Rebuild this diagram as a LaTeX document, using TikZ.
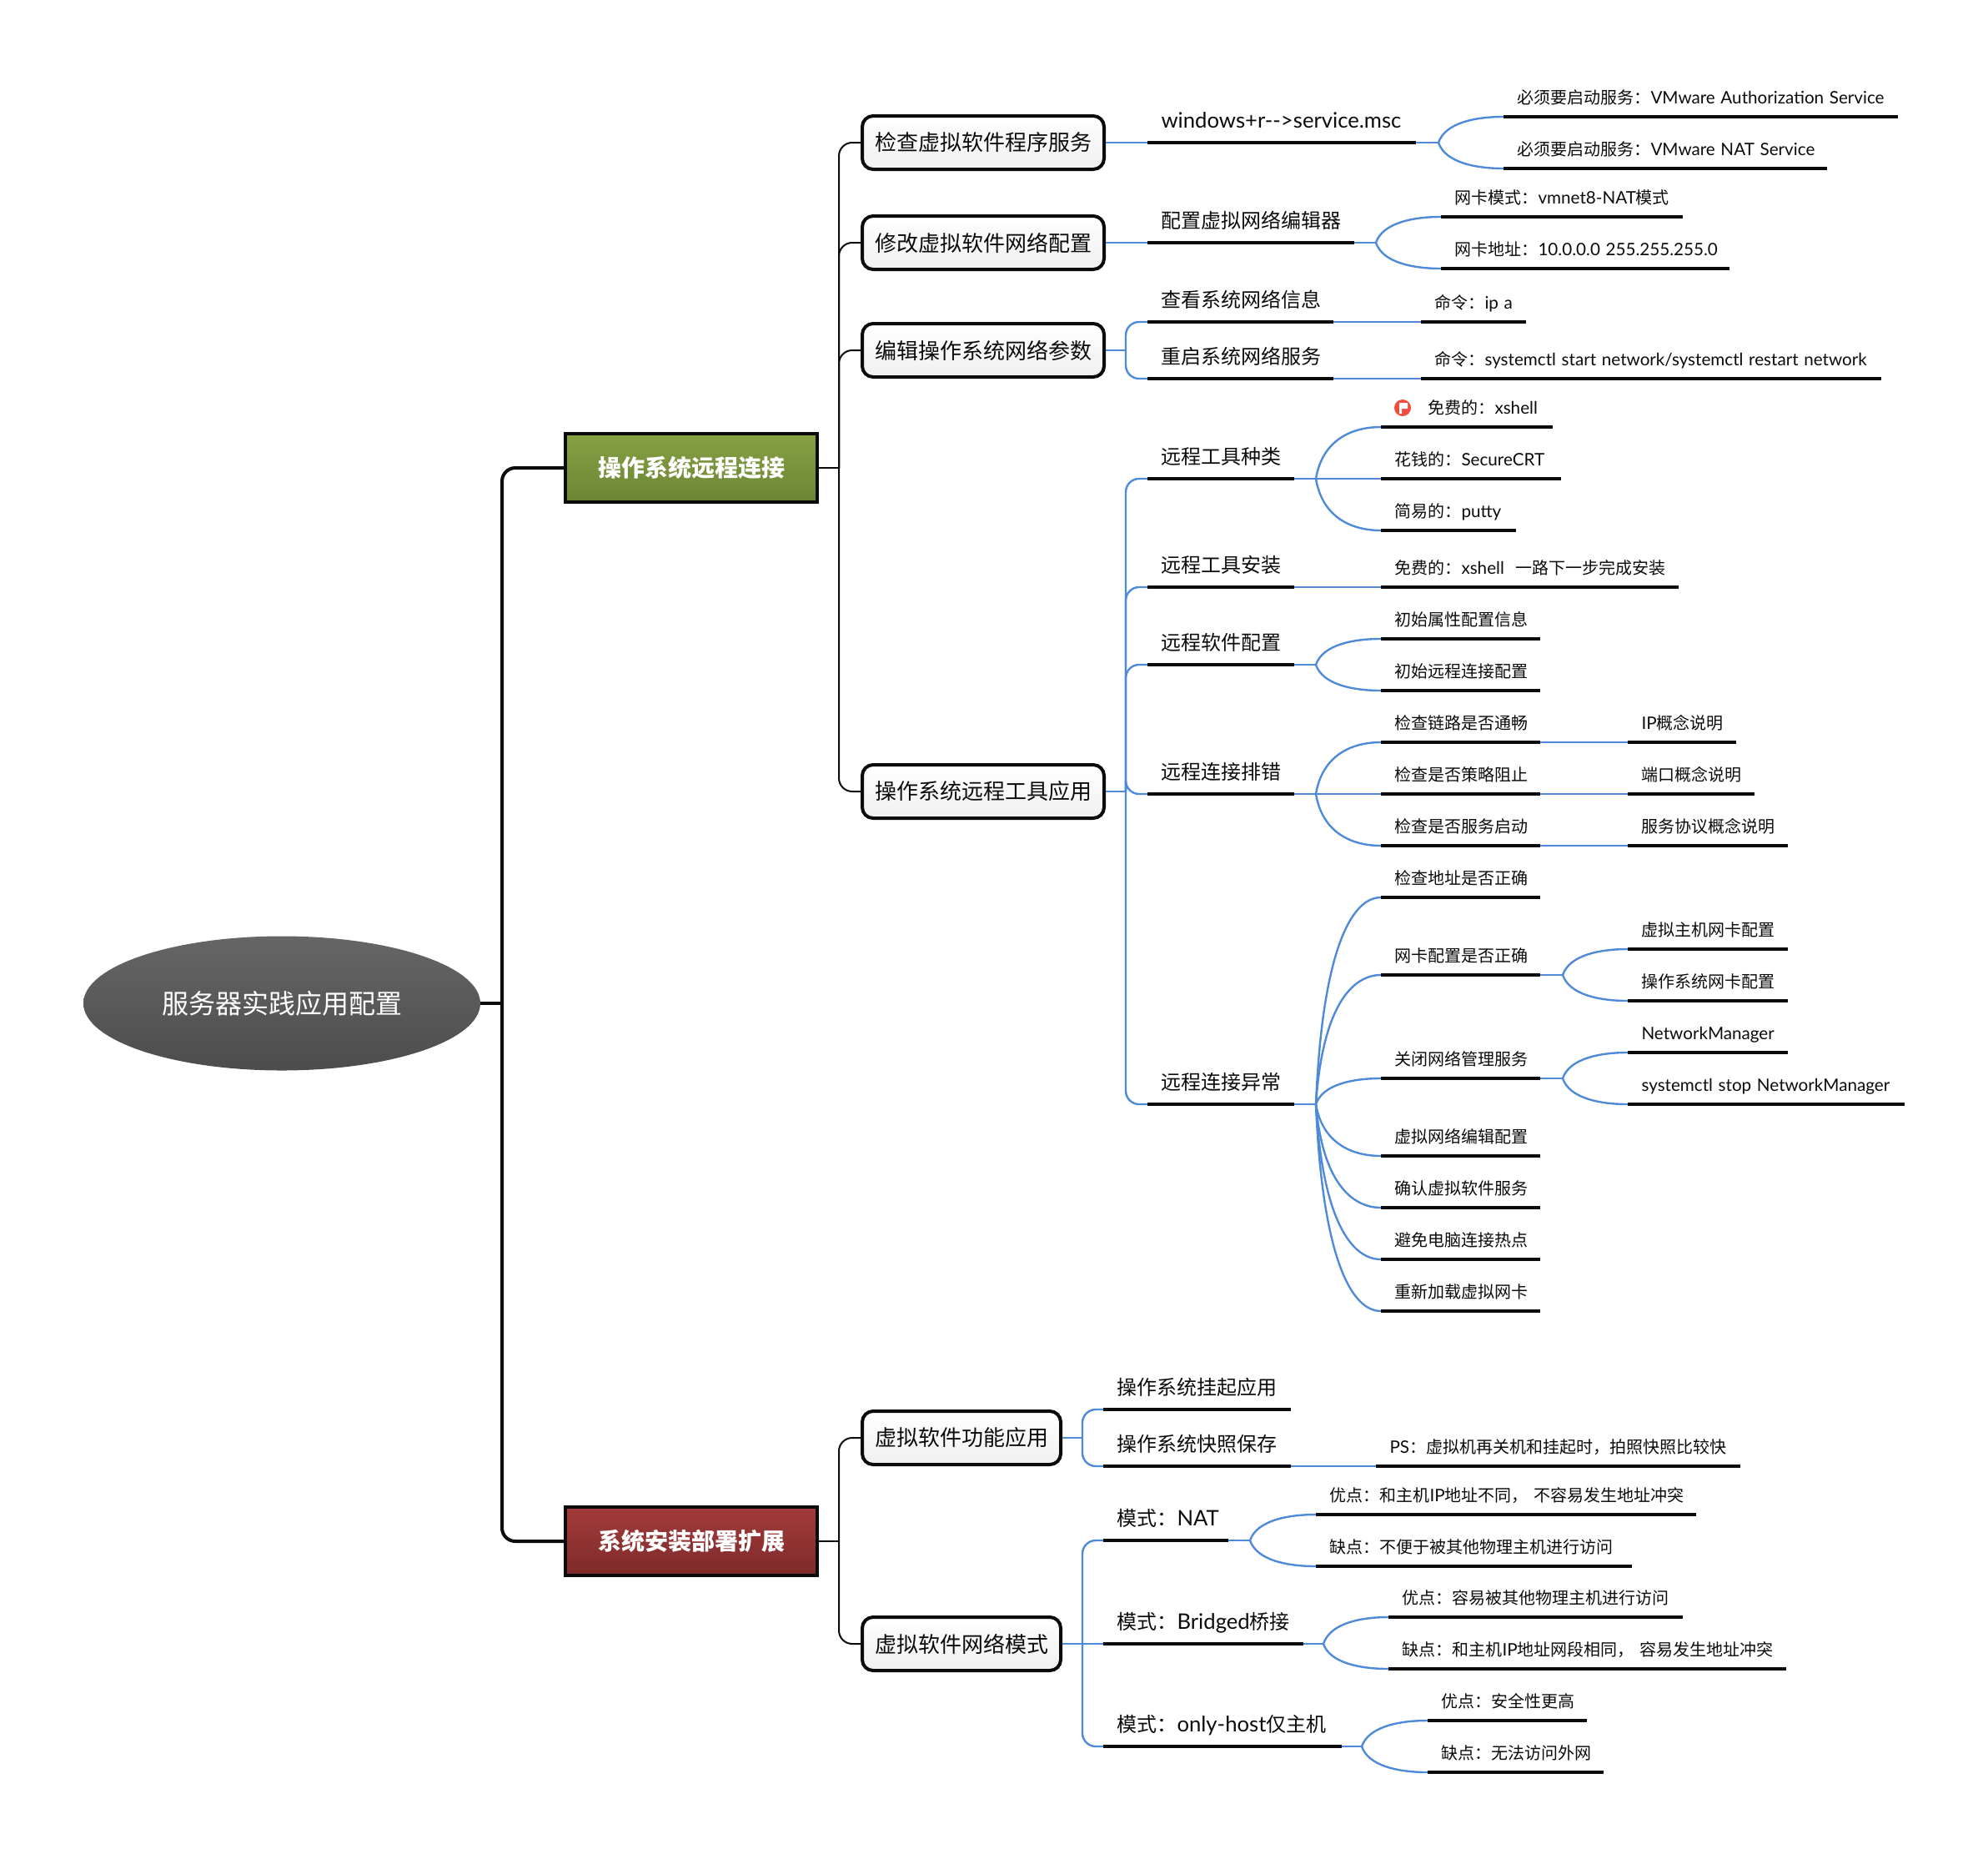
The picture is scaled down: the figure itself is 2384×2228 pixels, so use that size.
\documentclass[tikz,border=0pt]{standalone}
\usepackage{fontspec}
\setmainfont{Noto Sans CJK SC}
\newfontfamily\latinfont[Scale=1.032]{Lato}
\newfontfamily\latinbig[Scale=1.07]{Lato}
\newcommand{\la}[1]{{\latinfont #1}}
\newcommand{\lb}[1]{{\latinbig #1}}
\usetikzlibrary{shapes.geometric,calc}

\definecolor{inkblack}{HTML}{0B0B0B}
\definecolor{linkblue}{HTML}{4F8AD9}
\definecolor{greentop}{HTML}{85A142}
\definecolor{greenbottom}{HTML}{6C8535}
\definecolor{redtop}{HTML}{A23B3B}
\definecolor{redbottom}{HTML}{7E2A2A}
\definecolor{flagred}{HTML}{F24C40}

\tikzset{
	rootnode/.style={ellipse,minimum width=476,minimum height=161,inner sep=0pt,top color=black!60,bottom color=black!70,text=white,font=\fontsize{32}{36}\selectfont},
	mainbox/.style={draw=inkblack,line width=4pt,minimum width=302,minimum height=82,inner sep=0pt,text=white,font=\fontsize{28}{32}\selectfont\bfseries},
	subbox/.style={draw=inkblack,line width=4pt,rounded corners=13pt,minimum width=#1,minimum height=64,inner sep=0pt,top color=white,bottom color=black!6,text=inkblack,font=\fontsize{26}{30}\selectfont},
	uline/.style={draw=inkblack,line width=4pt},
	midleaf/.style={anchor=south west,text width=#1,align=left,inner xsep=0pt,inner ysep=17.5pt,text depth=0pt,text=inkblack,font=\fontsize{24}{28}\selectfont,execute at begin node=\hspace*{16.3pt},append after command={(\tikzlastnode.south west) edge[uline] (\tikzlastnode.south east)}},
	leaf/.style={anchor=south west,text width=#1,align=left,inner xsep=0pt,inner ysep=15pt,text depth=0pt,text=inkblack,font=\fontsize{20}{24}\selectfont,execute at begin node=\hspace*{16.3pt},append after command={(\tikzlastnode.south west) edge[uline] (\tikzlastnode.south east)}},
	trunk/.style={draw=inkblack,line width=4pt,rounded corners=16pt},
	branch/.style={draw=inkblack,line width=2pt,rounded corners=16pt},
	conn/.style={draw=linkblue,line width=2.4pt,rounded corners=16pt},
}

% curve from a fork point to the start of a leaf underline
\newcommand{\fan}[2]{\draw[conn] (#1) .. controls ($(#1)!0.65!(#1 |- #2.south west) + 0.1*(#2.south west) - 0.1*(#1)$) and ($(#2.south west)!0.45!(#1 |- #2.south west)$) .. (#2.south west);}

\begin{document}
\begin{tikzpicture}[x=1pt,y=-1pt]
	\useasboundingbox (0,0) rectangle (2384,2228);

	\node[rootnode] (root) at (338,1203) {服务器实践应用配置};

	\node[mainbox,top color=greentop,bottom color=greenbottom] (remote) at (829,561) {操作系统远程连接};
	\node[mainbox,top color=redtop,bottom color=redbottom] (install) at (829,1848) {系统安装部署扩展};

	\coordinate (rootfork) at (602,1203);
	\coordinate (remotefork) at (1006,561);
	\coordinate (installfork) at (1006,1848);

	% upper half
	\node[subbox=290] (svc) at (1179,171) {检查虚拟软件程序服务};
	\node[subbox=290] (vnet) at (1179,291) {修改虚拟软件网络配置};
	\node[subbox=290] (osnet) at (1179,420) {编辑操作系统网络参数};
	\node[subbox=290] (tool) at (1179,949) {操作系统远程工具应用};

	\node[midleaf=322] (win) at (1376,171) {\lb{windows+r{-}{-}>service.msc}};
	\node[leaf=473] (auth) at (1803,140) {必须要启动服务：\la{VMware Authorization Service}};
	\node[leaf=388] (nat) at (1803,202) {必须要启动服务：\la{VMware NAT Service}};
	\coordinate (winfork) at (1725,171);

	\node[midleaf=248] (editor) at (1376,291) {配置虚拟网络编辑器};
	\node[leaf=290] (nicmode) at (1728,260) {网卡模式：\la{vmnet8-NAT}模式};
	\node[leaf=346] (nicaddr) at (1728,322) {网卡地址：\la{10.0.0.0 255.255.255.0}};
	\coordinate (editorfork) at (1650,291);

	\node[midleaf=223] (viewnet) at (1376,386) {查看系统网络信息};
	\node[midleaf=223] (restart) at (1376,454) {重启系统网络服务};
	\node[leaf=126] (ipa) at (1704,386) {命令：\la{ip a}};
	\node[leaf=552] (sysctl) at (1704,454) {命令：\la{systemctl start network/systemctl restart network}};
	\coordinate (osnetfork) at (1350,420);

	\node[midleaf=176] (kinds) at (1376,574) {远程工具种类};
	\node[leaf=206] (xshell) at (1656,512) {\hspace*{40pt}免费的：\la{xshell}};
	\node[circle,fill=flagred,minimum size=20,inner sep=0pt] (flag) at (1682,489) {};
	\fill[white] (1678,483) -- (1688,483) -- (1688,490) -- (1681,490) -- (1681,496) -- (1678,496) -- cycle;
	\node[leaf=216] (crt) at (1656,574) {花钱的：\la{SecureCRT}};
	\node[leaf=162] (putty) at (1656,636) {简易的：\la{putty}};
	\coordinate (kindsfork) at (1578,574);

	\node[midleaf=176] (setup) at (1376,704) {远程工具安装};
	\node[leaf=357] (setupnote) at (1656,704) {免费的：\la{xshell}\ \ 一路下一步完成安装};

	\node[midleaf=176] (conf) at (1376,797) {远程软件配置};
	\node[leaf=191] (confa) at (1656,766) {初始属性配置信息};
	\node[leaf=191] (confb) at (1656,828) {初始远程连接配置};
	\coordinate (conffork) at (1578,797);

	\node[midleaf=176] (trouble) at (1376,952) {远程连接排错};
	\node[leaf=191] (link) at (1656,890) {检查链路是否通畅};
	\node[leaf=191] (policy) at (1656,952) {检查是否策略阻止};
	\node[leaf=191] (service) at (1656,1014) {检查是否服务启动};
	\node[leaf=130] (ipnote) at (1952,890) {\la{IP}概念说明};
	\node[leaf=152] (portnote) at (1952,952) {端口概念说明};
	\node[leaf=192] (protonote) at (1952,1014) {服务协议概念说明};
	\coordinate (troublefork) at (1578,952);

	\node[midleaf=176] (abnormal) at (1376,1324) {远程连接异常};
	\node[leaf=191] (addr) at (1656,1076) {检查地址是否正确};
	\node[leaf=191] (nic) at (1656,1169) {网卡配置是否正确};
	\node[leaf=191] (nm) at (1656,1293) {关闭网络管理服务};
	\node[leaf=191] (vedit) at (1656,1386) {虚拟网络编辑配置};
	\node[leaf=191] (vsvc) at (1656,1448) {确认虚拟软件服务};
	\node[leaf=191] (hotspot) at (1656,1510) {避免电脑连接热点};
	\node[leaf=191] (reload) at (1656,1572) {重新加载虚拟网卡};
	\coordinate (abnormalfork) at (1578,1324);

	\node[leaf=192] (hostnic) at (1952,1138) {虚拟主机网卡配置};
	\node[leaf=192] (osnic) at (1952,1200) {操作系统网卡配置};
	\coordinate (nicfork) at (1874,1169);
	\node[leaf=192] (nmname) at (1952,1262) {\la{NetworkManager}};
	\node[leaf=332] (nmstop) at (1952,1324) {\la{systemctl stop NetworkManager}};
	\coordinate (nmfork) at (1874,1293);

	% lower half
	\node[subbox=238] (vfunc) at (1153,1724) {虚拟软件功能应用};
	\node[subbox=238] (vmode) at (1153,1971) {虚拟软件网络模式};

	\node[midleaf=225] (suspend) at (1323,1690) {操作系统挂起应用};
	\node[midleaf=225] (snapshot) at (1323,1758) {操作系统快照保存};
	\node[leaf=437] (psnote) at (1650,1758) {\la{PS}：虚拟机再关机和挂起时，拍照快照比较快};
	\coordinate (vfuncfork) at (1298,1724);

	\node[midleaf=150] (modenat) at (1323,1847) {模式：\lb{NAT}};
	\node[leaf=456] (natgood) at (1578,1816) {优点：和主机\la{IP}地址不同， 不容易发生地址冲突};
	\node[leaf=379] (natbad) at (1578,1878) {缺点：不便于被其他物理主机进行访问};
	\coordinate (natfork) at (1499,1847);

	\node[midleaf=240] (modebr) at (1323,1971) {模式：\lb{Bridged}桥接};
	\node[leaf=353] (brgood) at (1665,1939) {优点：容易被其他物理主机进行访问};
	\node[leaf=477] (brbad) at (1665,2001) {缺点：和主机\la{IP}地址网段相同， 容易发生地址冲突};
	\coordinate (brfork) at (1587,1971);

	\node[midleaf=286] (modehost) at (1323,2094) {模式：\lb{only-host}仅主机};
	\node[leaf=191] (hostgood) at (1712,2063) {优点：安全性更高};
	\node[leaf=211] (hostbad) at (1712,2125) {缺点：无法访问外网};
	\coordinate (hostfork) at (1633,2094);

	\coordinate (vmodefork) at (1298,1971);

	% black links
	\draw[trunk] (root.east) -- (rootfork);
	\draw[trunk] (remote.west) -| (rootfork) |- (install.west);

	\draw[branch] (remote.east) -- (remotefork);
	\draw[branch] (svc.west) -| (remotefork);
	\draw[branch] (vnet.west) -| (remotefork);
	\draw[branch] (osnet.west) -| (remotefork);
	\draw[branch] (tool.west) -| (remotefork);

	\draw[branch] (install.east) -- (installfork);
	\draw[branch] (vfunc.west) -| (installfork);
	\draw[branch] (vmode.west) -| (installfork);

	% blue links
	\draw[conn] (svc.east) -- (win.south west);
	\draw[conn] (win.south east) -- (winfork);
	\fan{winfork}{auth}
	\fan{winfork}{nat}

	\draw[conn] (vnet.east) -- (editor.south west);
	\draw[conn] (editor.south east) -- (editorfork);
	\fan{editorfork}{nicmode}
	\fan{editorfork}{nicaddr}

	\draw[conn] (osnet.east) -- (osnetfork);
	\draw[conn] (viewnet.south west) -| (osnetfork);
	\draw[conn] (restart.south west) -| (osnetfork);
	\draw[conn] (viewnet.south east) -- (ipa.south west);
	\draw[conn] (restart.south east) -- (sysctl.south west);

	\coordinate (toolfork) at (1350,949);
	\draw[conn] (tool.east) -- (toolfork);
	\draw[conn] (kinds.south west) -| (toolfork);
	\draw[conn] (setup.south west) -| (toolfork);
	\draw[conn] (conf.south west) -| (toolfork);
	\draw[conn] (trouble.south west) -- (trouble.south west -| toolfork) -- (toolfork);
	\draw[conn] (abnormal.south west) -| (toolfork);

	\draw[conn] (kinds.south east) -- (kindsfork);
	\fan{kindsfork}{xshell}
	\fan{kindsfork}{crt}
	\fan{kindsfork}{putty}
	\draw[conn] (setup.south east) -- (setupnote.south west);
	\draw[conn] (conf.south east) -- (conffork);
	\fan{conffork}{confa}
	\fan{conffork}{confb}

	\draw[conn] (trouble.south east) -- (troublefork);
	\fan{troublefork}{link}
	\fan{troublefork}{policy}
	\fan{troublefork}{service}
	\draw[conn] (link.south east) -- (ipnote.south west);
	\draw[conn] (policy.south east) -- (portnote.south west);
	\draw[conn] (service.south east) -- (protonote.south west);

	\draw[conn] (abnormal.south east) -- (abnormalfork);
	\fan{abnormalfork}{addr}
	\fan{abnormalfork}{nic}
	\fan{abnormalfork}{nm}
	\fan{abnormalfork}{vedit}
	\fan{abnormalfork}{vsvc}
	\fan{abnormalfork}{hotspot}
	\fan{abnormalfork}{reload}

	\draw[conn] (nic.south east) -- (nicfork);
	\fan{nicfork}{hostnic}
	\fan{nicfork}{osnic}
	\draw[conn] (nm.south east) -- (nmfork);
	\fan{nmfork}{nmname}
	\fan{nmfork}{nmstop}

	\draw[conn] (vfunc.east) -- (vfuncfork);
	\draw[conn] (suspend.south west) -| (vfuncfork);
	\draw[conn] (snapshot.south west) -| (vfuncfork);
	\draw[conn] (snapshot.south east) -- (psnote.south west);

	\draw[conn] (vmode.east) -- (modebr.south west);
	\draw[conn] (modenat.south west) -| (vmodefork);
	\draw[conn] (modehost.south west) -| (vmodefork);
	\draw[conn] (modenat.south east) -- (natfork);
	\fan{natfork}{natgood}
	\fan{natfork}{natbad}
	\draw[conn] (modebr.south east) -- (brfork);
	\fan{brfork}{brgood}
	\fan{brfork}{brbad}
	\draw[conn] (modehost.south east) -- (hostfork);
	\fan{hostfork}{hostgood}
	\fan{hostfork}{hostbad}

\end{tikzpicture}
\end{document}
